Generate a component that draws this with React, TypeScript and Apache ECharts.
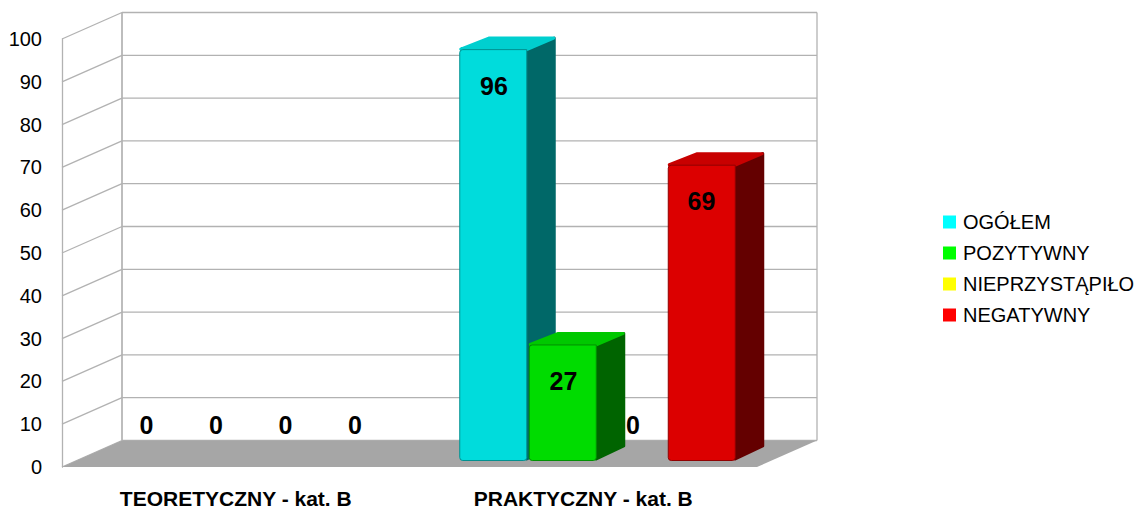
import React, { useEffect, useRef } from "react";
import * as echarts from "echarts";

const categories = ["TEORETYCZNY - kat. B", "PRAKTYCZNY - kat. B"];
const seriesNames = ["OGÓŁEM", "POZYTYWNY", "NIEPRZYSTĄPIŁO", "NEGATYWNY"];
const ogolem = [0, 96];
const pozytywny = [0, 27];
const nieprzystapilo = [0, 0];
const negatywny = [0, 69];
const allValues = [ogolem, pozytywny, nieprzystapilo, negatywny];
const ticks = [0, 10, 20, 30, 40, 50, 60, 70, 80, 90, 100];
const legendColors = ["#00FFFF", "#00FF00", "#FFFF00", "#FF0000"];
const frontColors = ["#00DCDC", "#00DC00", "#DCDC00", "#DC0000"];
const topColors = ["#00CFCF", "#00C800", "#CFCF00", "#C80000"];
const sideColors = ["#006868", "#006400", "#686800", "#640000"];
const edgeColors = ["#009090", "#009000", "#909000", "#900000"];

const FONT = '"Liberation Sans", Arial, sans-serif';
const WALL_DX = 60;
const WALL_DY = 26.5;
const BAR_DX = 15;
const BAR_DY = 6.5;
const DEPTH_DX = 29;
const DEPTH_DY = 13;
const WALL = "#B2B2B2";

export default function App() {
  const ref = useRef<HTMLDivElement>(null);
  useEffect(() => {
    document.body.style.margin = "0";
    const chart = echarts.init(ref.current!, undefined, { renderer: "svg" });

    const wallSeries: any = {
      type: "custom",
      silent: true,
      z: 1,
      data: ticks.map((t) => [0, t]),
      encode: { x: 0, y: 1 },
      renderItem: (params: any, api: any) => {
        const cs = params.coordSys;
        const y = api.coord([0, api.value(1)])[1];
        const left = cs.x;
        const right = cs.x + cs.width;
        const lineStyle = { stroke: WALL, lineWidth: 1.3, fill: "none" };
        const children: any[] = [
          {
            type: "line",
            shape: { x1: left, y1: y, x2: left + WALL_DX, y2: y - WALL_DY },
            style: lineStyle,
          },
          {
            type: "line",
            shape: { x1: left + WALL_DX, y1: y - WALL_DY, x2: right + WALL_DX, y2: y - WALL_DY },
            style: lineStyle,
          },
        ];
        if (api.value(1) === 0) {
          children.push({
            type: "polygon",
            shape: {
              points: [
                [left, y],
                [left + WALL_DX, y - WALL_DY],
                [right + WALL_DX, y - WALL_DY],
                [right, y],
              ],
            },
            style: { fill: "#A6A6A6" },
          });
          const top = cs.y - WALL_DY;
          children.push(
            {
              type: "line",
              shape: { x1: left + WALL_DX, y1: top, x2: left + WALL_DX, y2: y - WALL_DY },
              style: { stroke: WALL, lineWidth: 1.7 },
            },
            {
              type: "line",
              shape: { x1: right + WALL_DX, y1: top, x2: right + WALL_DX, y2: y - WALL_DY },
              style: { stroke: WALL, lineWidth: 1.3 },
            }
          );
        }
        return { type: "group", children };
      },
    };

    const barSeries: any[] = seriesNames.map((name, i) => ({
      type: "custom",
      name,
      z: 2,
      itemStyle: { color: legendColors[i] },
      data: allValues[i].map((v, c) => [c, v]),
      encode: { x: 0, y: 1 },
      renderItem: (_: any, api: any) => {
        const cat = api.value(0);
        const val = api.value(1);
        if (!val) return { type: "group", children: [] };
        const band = api.size([1, 0])[0];
        const bw = band * 0.2;
        const [cx, yTop] = api.coord([cat, val]);
        const yBase = api.coord([cat, 0])[1];
        const x = cx + BAR_DX + (i - 2) * bw + 0.5;
        const w = bw - 2.5;
        const top = yTop - BAR_DY;
        const bottom = yBase - BAR_DY;
        const rim = (c: string) => ({ fill: c, stroke: c, lineWidth: 3, lineJoin: "round" });
        return {
          type: "group",
          children: [
            {
              type: "polygon",
              shape: {
                points: [
                  [x + w, top + 1],
                  [x + w + DEPTH_DX - 1.5, top - DEPTH_DY + 1.5],
                  [x + w + DEPTH_DX - 1.5, bottom - DEPTH_DY - 1.5],
                  [x + w, bottom - 1.5],
                ],
              },
              style: rim(sideColors[i]),
            },
            {
              type: "polygon",
              shape: {
                points: [
                  [x + 1, top - 0.5],
                  [x + DEPTH_DX, top - DEPTH_DY + 1.5],
                  [x + w + DEPTH_DX - 2, top - DEPTH_DY + 1.5],
                  [x + w, top],
                ],
              },
              style: rim(topColors[i]),
            },
            {
              type: "rect",
              shape: { x, y: top, width: w, height: bottom - top, r: [3, 0, 3, 3] },
              style: { fill: frontColors[i], stroke: edgeColors[i], lineWidth: 1 },
            },
          ],
        };
      },
    }));

    const labelSeries: any = {
      type: "custom",
      silent: true,
      z: 3,
      data: allValues.flatMap((vals, i) => vals.map((v, c) => [c, v, i])),
      encode: { x: 0, y: 1 },
      renderItem: (_: any, api: any) => {
        const cat = api.value(0);
        const val = api.value(1);
        const i = api.value(2);
        const bw = api.size([1, 0])[0] * 0.2;
        const [cx, y] = api.coord([cat, val]);
        return {
          type: "text",
          style: {
            text: String(val),
            x: cx + BAR_DX + (i - 1.5) * bw - (val === 69 ? 1 : 0),
            y: val === 0 ? y - 42 : y + 29.5,
            font: `bold 25px ${FONT}`,
            fill: "#000",
            align: "center",
            verticalAlign: "middle",
          },
        };
      },
    };

    chart.setOption({
      animation: false,
      backgroundColor: "#fff",
      grid: { left: 62, right: 380, top: 39, bottom: 43, containLabel: false, outerBoundsMode: "none" },
      legend: {
        orient: "vertical",
        left: 943,
        top: 212,
        padding: 0,
        itemWidth: 13,
        itemHeight: 13,
        itemGap: 11,
        icon: "rect",
        selectedMode: false,
        textStyle: { fontFamily: FONT, fontSize: 20, color: "#000", padding: [0, 0, 0, 2] },
        data: seriesNames.map((name, i) => ({
          name,
          icon: "rect",
          itemStyle: { color: legendColors[i] },
        })),
      },
      xAxis: {
        type: "category",
        data: categories,
        axisLine: { show: false },
        axisTick: { show: false },
        axisLabel: {
          fontFamily: FONT,
          fontWeight: "bold",
          fontSize: 21,
          lineHeight: 16,
          color: "#000",
          margin: 23,
        },
      },
      yAxis: {
        type: "value",
        min: 0,
        max: 100,
        interval: 10,
        splitLine: { show: false },
        axisTick: { show: false },
        axisLine: { show: true, lineStyle: { color: WALL, width: 1.3 } },
        axisLabel: { fontFamily: FONT, fontSize: 20, color: "#000", margin: 19, padding: [3, 1, 0, 0] },
      },
      series: [wallSeries, ...barSeries, labelSeries],
    });
    return () => chart.dispose();
  }, []);
  return <div ref={ref} style={{ width: 1137, height: 510 }} />;
}
